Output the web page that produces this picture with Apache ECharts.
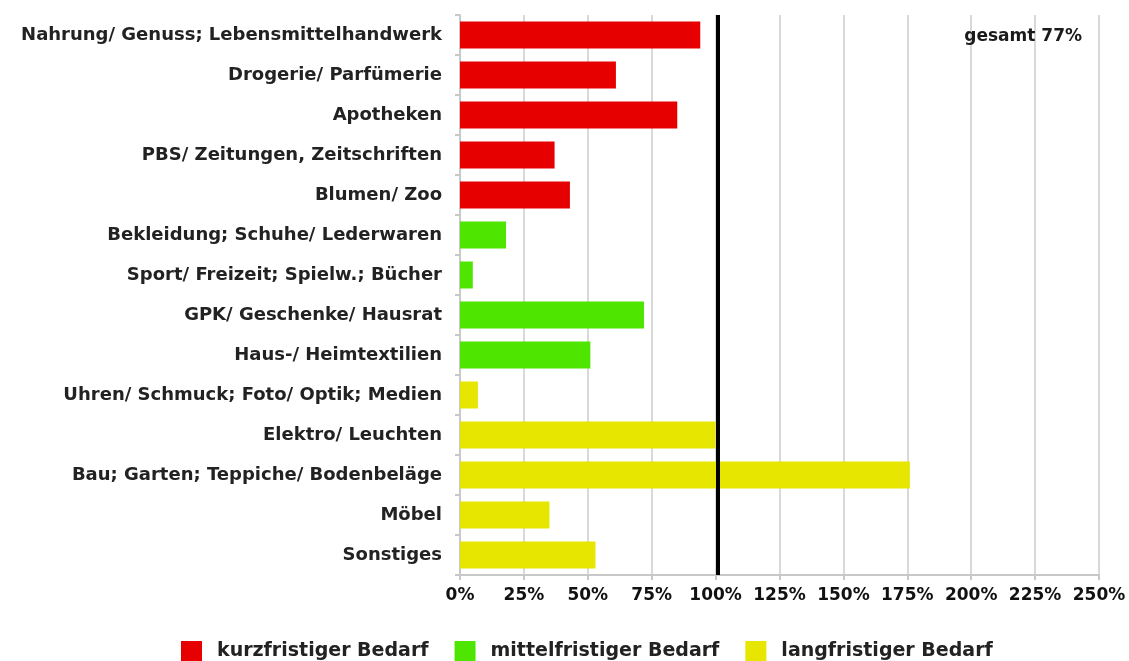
<!doctype html>
<html>
<head>
    <meta charset="utf-8">
    <title>Bedarf</title>
    <script src="https://cdn.jsdelivr.net/npm/echarts@6/dist/echarts.min.js"></script>
    <style>
        html, body { margin: 0; padding: 0; background: #fff; }
        #main { width: 1129px; height: 661px; }
    </style>
</head>
<body>
<div id="main"></div>
<script type="text/javascript">
    // Branchen, von oben nach unten
    var kurzCats = ['Nahrung/ Genuss; Lebensmittelhandwerk', 'Drogerie/ Parfümerie', 'Apotheken', 'PBS/ Zeitungen, Zeitschriften', 'Blumen/ Zoo'];
    var kurzVals = [94, 61, 85, 37, 43];
    var mittelCats = ['Bekleidung; Schuhe/ Lederwaren', 'Sport/ Freizeit; Spielw.; Bücher', 'GPK/ Geschenke/ Hausrat', 'Haus-/ Heimtextilien'];
    var mittelVals = [18, 5, 72, 51];
    var langCats = ['Uhren/ Schmuck; Foto/ Optik; Medien', 'Elektro/ Leuchten', 'Bau; Garten; Teppiche/ Bodenbeläge', 'Möbel', 'Sonstiges'];
    var langVals = [7, 100, 176, 35, 53];
    var xTicks = [0, 25, 50, 75, 100, 125, 150, 175, 200, 225, 250];
    var gesamt = 77;

    var fontFam = '"DejaVu Sans", sans-serif';

    var cats = kurzCats.concat(mittelCats, langCats);
    function fill(vals, offset) {
        var arr = [];
        for (var i = 0; i < cats.length; i++) arr.push('-');
        for (var j = 0; j < vals.length; j++) arr[offset + j] = vals[j];
        return arr;
    }
    var kurzData = fill(kurzVals, 0);
    var mittelData = fill(mittelVals, kurzVals.length);
    var langData = fill(langVals, kurzVals.length + mittelVals.length);

    var myChart = echarts.init(document.getElementById('main'));
    var option = {
        animation: false,
        title: {
            text: 'gesamt ' + gesamt + '%',
            right: 42,
            top: 23,
            textStyle: { fontFamily: fontFam, fontWeight: 'bold', fontSize: 17, color: '#1a1a1a' }
        },
        legend: {
            top: 636,
            left: 176,
            itemWidth: 21,
            itemHeight: 21,
            itemGap: 26,
            icon: 'rect',
            textStyle: { fontFamily: fontFam, fontWeight: 'bold', fontSize: 19, color: '#222', padding: [0, 0, 0, 10] },
            data: ['kurzfristiger Bedarf', 'mittelfristiger Bedarf', 'langfristiger Bedarf']
        },
        grid: {
            left: 460,
            right: 30,
            top: 15,
            bottom: 86,
            containLabel: false
        },
        xAxis: {
            type: 'value',
            min: 0,
            max: 250,
            interval: 25,
            axisLine: { show: true, lineStyle: { color: '#c8c8c8', width: 2 } },
            axisTick: { show: true, length: 5, lineStyle: { color: '#c8c8c8', width: 2 } },
            splitLine: { show: true, lineStyle: { color: '#cccccc', width: 1.5 } },
            axisLabel: {
                fontFamily: fontFam, fontWeight: 'bold', fontSize: 17, color: '#111', margin: 12,
                formatter: function (v) { return xTicks.indexOf(v) >= 0 ? v + '%' : ''; }
            }
        },
        yAxis: {
            type: 'category',
            inverse: true,
            data: cats,
            axisLine: { show: true, lineStyle: { color: '#c8c8c8', width: 2 } },
            axisTick: { show: true, length: 5, lineStyle: { color: '#c8c8c8', width: 2 } },
            axisLabel: { fontFamily: fontFam, fontWeight: 'bold', fontSize: 18, color: '#222', margin: 18 }
        },
        series: [
            {
                name: 'kurzfristiger Bedarf',
                type: 'bar',
                stack: 'b',
                barWidth: 27,
                itemStyle: { color: '#e60000' },
                data: kurzData,
                markLine: {
                    symbol: 'none',
                    silent: true,
                    label: { show: false },
                    lineStyle: { color: '#000', width: 4, type: 'solid' },
                    data: [{ xAxis: 101 }]
                },
                z: 2
            },
            {
                name: 'mittelfristiger Bedarf',
                type: 'bar',
                stack: 'b',
                barWidth: 27,
                itemStyle: { color: '#4ee600' },
                data: mittelData
            },
            {
                name: 'langfristiger Bedarf',
                type: 'bar',
                stack: 'b',
                barWidth: 27,
                itemStyle: { color: '#e6e600' },
                data: langData
            }
        ]
    };
    myChart.setOption(option);
</script>
</body>
</html>
